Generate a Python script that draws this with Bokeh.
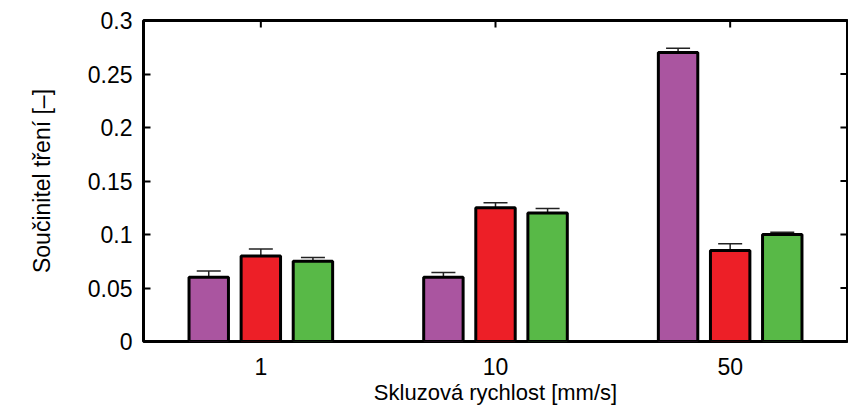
from bokeh.plotting import figure
from bokeh.models import (ColumnDataSource, FactorRange, Range1d, Whisker, FixedTicker,
                          CustomJSTickFormatter, TeeHead)
from bokeh.transform import dodge
from bokeh.embed import file_html
from bokeh.resources import INLINE

categories = ["1", "10", "50"]
purple_vals = [0.060, 0.060, 0.270]
purple_err = [0.006, 0.0045, 0.004]
red_vals = [0.080, 0.125, 0.085]
red_err = [0.0065, 0.0047, 0.0064]
green_vals = [0.075, 0.120, 0.100]
green_err = [0.0035, 0.0044, 0.002]
y_ticks = [0, 0.05, 0.1, 0.15, 0.2, 0.25, 0.3]

FONT = "Liberation Sans"

p = figure(width=848, height=412, x_range=FactorRange(factors=categories, range_padding=0),
           y_range=Range1d(0, 0.3), output_backend="svg", toolbar_location=None,
           min_border_left=143, min_border_right=1, min_border_top=20, min_border_bottom=71)
p.xgrid.grid_line_color = None
p.ygrid.grid_line_color = None
p.outline_line_color = "black"
p.outline_line_width = 3
p.background_fill_color = "white"

series = [
    (purple_vals, purple_err, "#AA55A0", -0.222),
    (red_vals, red_err, "#ED1F27", 0.0),
    (green_vals, green_err, "#58B947", 0.222),
]
for vals, errs, color, off in series:
    src = ColumnDataSource(dict(
        x=categories, top=vals,
        upper=[v + e for v, e in zip(vals, errs)],
        lower=[v - e for v, e in zip(vals, errs)],
    ))
    p.vbar(x=dodge("x", off, range=p.x_range), top="top", bottom=0, width=0.168,
           source=src, fill_color=color, line_color="black", line_width=3)
    w = Whisker(base=dodge("x", off, range=p.x_range), upper="upper", lower="lower", source=src,
                line_color="#222222", line_width=1.5,
                upper_head=TeeHead(size=24, line_color="#222222", line_width=1.5),
                lower_head=TeeHead(size=24, line_color="#222222", line_width=1.5))
    p.add_layout(w)

# mirror ticks on the right and top border (inward)
ymax = y_ticks[-1]
right_src = ColumnDataSource(dict(x=[categories[-1]] * len(y_ticks), y=y_ticks))
p.segment(x0=dodge("x", 0.5, range=p.x_range), x1=dodge("x", 0.47, range=p.x_range),
          y0="y", y1="y", source=right_src, line_color="black", line_width=2)
top_src = ColumnDataSource(dict(x=categories, y0=[ymax] * 3, y1=[ymax - 0.0065] * 3))
p.segment(x0="x", x1="x", y0="y0", y1="y1", source=top_src, line_color="black", line_width=2)

fmt = CustomJSTickFormatter(code="return parseFloat(tick.toFixed(2)).toString();")

ya = p.yaxis[0]
ya.ticker = FixedTicker(ticks=y_ticks)
ya.formatter = fmt
ya.axis_line_color = None
ya.major_tick_in = 7
ya.major_tick_out = 0
ya.major_tick_line_width = 2
ya.minor_tick_line_color = None
ya.major_label_standoff = 11
ya.major_label_text_font = FONT
ya.major_label_text_font_size = "23px"
ya.major_label_text_color = "black"
ya.axis_label = "Součinitel tření [–]"
ya.axis_label_text_font = FONT
ya.axis_label_text_font_size = "23px"
ya.axis_label_text_font_style = "normal"
ya.axis_label_text_color = "black"
ya.axis_label_standoff = 30

xa = p.xaxis[0]
xa.axis_line_color = None
xa.major_tick_in = 0
xa.major_tick_out = 0
xa.major_label_standoff = 16
xa.major_label_text_font = FONT
xa.major_label_text_font_size = "23px"
xa.major_label_text_color = "black"
xa.axis_label = "Skluzová rychlost [mm/s]"
xa.axis_label_text_font = FONT
xa.axis_label_text_font_size = "22px"
xa.axis_label_text_font_style = "normal"
xa.axis_label_text_color = "black"
xa.axis_label_standoff = 2

open("out.html", "w").write(file_html(p, INLINE))
